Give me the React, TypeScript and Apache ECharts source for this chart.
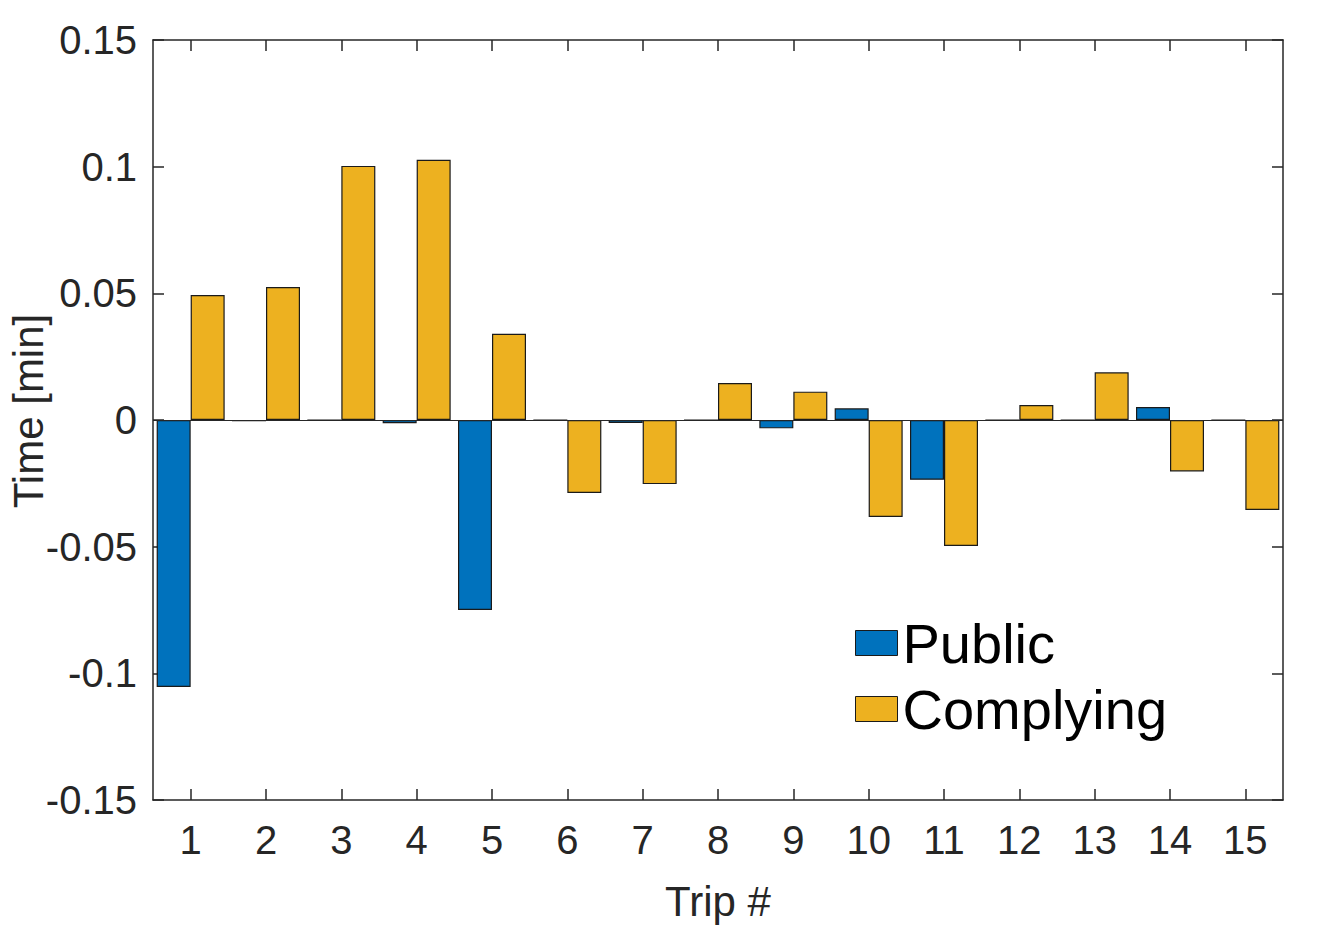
import React, { useEffect, useRef } from "react";
import * as echarts from "echarts";

const categories = ["1", "2", "3", "4", "5", "6", "7", "8", "9", "10", "11", "12", "13", "14", "15"];
const publicValues = [-0.1054, -0.0005, 0, -0.0013, -0.075, 0, -0.0012, 0, -0.0033, 0.0046, -0.0236, 0, 0, 0.0051, 0];
const complyingValues = [0.0493, 0.0525, 0.1003, 0.1027, 0.034, -0.0288, -0.0253, 0.0146, 0.0112, -0.0383, -0.0497, 0.0059, 0.0188, -0.0203, -0.0355];
const yTicks = [-0.15, -0.1, -0.05, 0, 0.05, 0.1, 0.15];

const FONT = "'Liberation Sans', Arial, Helvetica, sans-serif";
const AXIS = "#262626";

export default function App() {
  const ref = useRef<HTMLDivElement>(null);
  useEffect(() => {
    if (!ref.current) return;
    const chart = echarts.init(ref.current, null, { renderer: "svg" });
    const yLabel = (v: number) => {
      const t = yTicks.find((x) => Math.abs(x - v) < 1e-9);
      if (t === undefined) return "";
      return t === 0 ? "0" : String(t);
    };
    chart.setOption({
      animation: false,
      backgroundColor: "#ffffff",
      textStyle: { fontFamily: FONT },
      grid: { left: 153, right: 50, top: 40, bottom: 130, containLabel: false, outerBoundsMode: "none" },
      legend: {
        orient: "vertical",
        left: 850,
        top: 610,
        itemWidth: 42,
        itemHeight: 25,
        itemGap: 10,
        icon: "rect",
        data: [
          { name: "Public", itemStyle: { color: "#0072BD", borderColor: "#1a1a1a", borderWidth: 1 } },
          { name: "Complying", itemStyle: { color: "#EDB120", borderColor: "#1a1a1a", borderWidth: 1 } },
        ],
        textStyle: { fontSize: 56, color: "#000000", fontFamily: FONT, padding: [0, 0, 0, 0] },
      },
      xAxis: [
        {
          type: "category",
          data: categories,
          position: "bottom",
          boundaryGap: true,
          name: "Trip #",
          nameLocation: "middle",
          nameGap: 80,
          nameMoveOverlap: false,
          nameTextStyle: { fontSize: 42, color: AXIS, fontFamily: FONT },
          axisLine: { show: true, onZero: false, lineStyle: { color: AXIS, width: 1.5 } },
          axisTick: { show: true, inside: true, alignWithLabel: true, length: 11, lineStyle: { color: AXIS, width: 1.5 } },
          axisLabel: { fontSize: 40, color: AXIS, margin: 20, fontFamily: FONT, interval: 0 },
          splitLine: { show: false },
        },
        {
          type: "category",
          data: categories,
          position: "top",
          boundaryGap: true,
          axisLine: { show: true, onZero: false, lineStyle: { color: AXIS, width: 1.5 } },
          axisTick: { show: true, inside: true, alignWithLabel: true, length: 11, lineStyle: { color: AXIS, width: 1.5 } },
          axisLabel: { show: false },
          splitLine: { show: false },
        },
      ],
      yAxis: [
        {
          type: "value",
          min: -0.15,
          max: 0.15,
          interval: 0.05,
          position: "left",
          name: "Time [min]",
          nameLocation: "middle",
          nameGap: 104,
          nameMoveOverlap: false,
          nameTextStyle: { fontSize: 42, color: AXIS, fontFamily: FONT, padding: [0, 0, 0, 18] },
          axisLine: { show: true, onZero: false, lineStyle: { color: AXIS, width: 1.5 } },
          axisTick: { show: true, inside: true, length: 11, lineStyle: { color: AXIS, width: 1.5 } },
          axisLabel: { fontSize: 40, color: AXIS, margin: 16, fontFamily: FONT, formatter: yLabel },
          splitLine: { show: false },
        },
        {
          type: "value",
          min: -0.15,
          max: 0.15,
          interval: 0.05,
          position: "right",
          axisLine: { show: true, onZero: false, lineStyle: { color: AXIS, width: 1.5 } },
          axisTick: { show: true, inside: true, length: 11, lineStyle: { color: AXIS, width: 1.5 } },
          axisLabel: { show: false },
          splitLine: { show: false },
        },
      ],
      series: [
        {
          name: "Public",
          type: "bar",
          data: publicValues,
          barWidth: 34,
          barGap: "0%",
          itemStyle: { color: "#0072BD", borderColor: "#1a1a1a", borderWidth: 1.2 },
          markLine: {
            silent: true,
            symbol: "none",
            label: { show: false },
            lineStyle: { color: AXIS, width: 1.2, type: "solid" },
            data: [{ yAxis: 0 }],
          },
        },
        {
          name: "Complying",
          type: "bar",
          data: complyingValues,
          barWidth: 34,
          barGap: "0%",
          itemStyle: { color: "#EDB120", borderColor: "#1a1a1a", borderWidth: 1.2 },
        },
      ],
    });
    return () => chart.dispose();
  }, []);
  return <div ref={ref} style={{ position: "fixed", left: 0, top: 0, width: 1333, height: 930 }} />;
}
